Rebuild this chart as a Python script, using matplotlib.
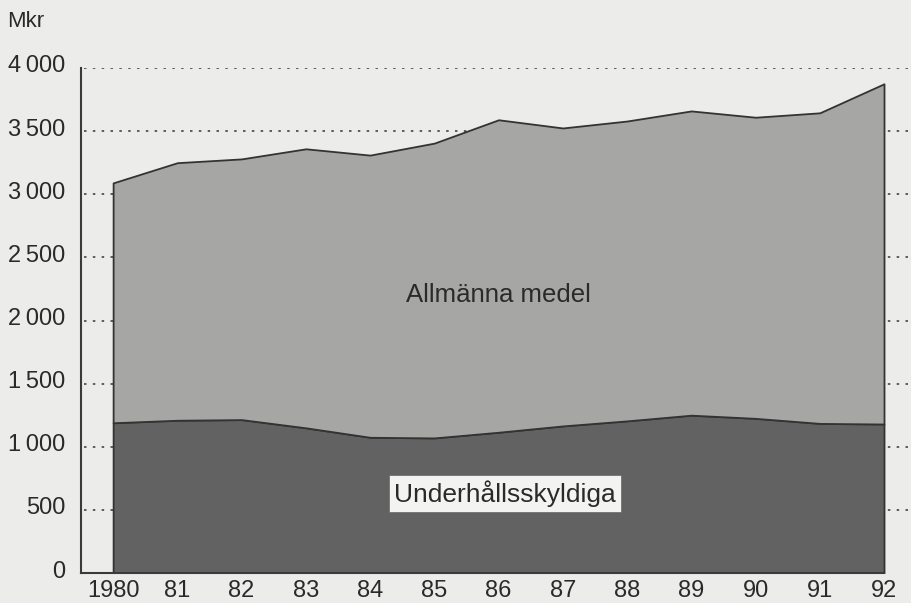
import matplotlib.pyplot as plt
import matplotlib.transforms as mtransforms

# data (Mkr)
years = [1980, 1981, 1982, 1983, 1984, 1985, 1986, 1987, 1988, 1989, 1990, 1991, 1992]
year_labels = ["1980", "81", "82", "83", "84", "85", "86", "87", "88", "89", "90", "91", "92"]
underhallsskyldiga = [1190, 1210, 1215, 1150, 1075, 1070, 1115, 1165, 1205, 1250, 1225, 1185, 1180]
allmanna_medel = [1900, 2040, 2065, 2210, 2235, 2335, 2475, 2360, 2375, 2410, 2385, 2460, 2695]
y_ticks = [0, 500, 1000, 1500, 2000, 2500, 3000, 3500, 4000]
y_labels = ["0", "500", "1\u2009000", "1\u2009500", "2\u2009000", "2\u2009500",
            "3\u2009000", "3\u2009500", "4\u2009000"]

bg = "#ececea"
col_top = "#a6a7a4"
col_bottom = "#626263"
edge = "#333333"

plt.rcParams["font.family"] = ["Liberation Sans", "DejaVu Sans"]
fontsize = 17

fig = plt.figure(figsize=(9.12, 6.03), dpi=100, facecolor=bg)
W, H = 912, 603
ax = fig.add_axes([81 / W, (H - 573) / H, (W - 81) / W, (573 - 68) / H])
ax.set_facecolor(bg)

ax.stackplot(
    years,
    underhallsskyldiga,
    allmanna_medel,
    colors=[col_bottom, col_top],
    edgecolor=edge,
    linewidth=1.3,
    zorder=3,
)

ax.set_xlim(years[0] - 0.5, years[-1] + 28 / 64.25)
ax.set_ylim(0, 4000)

# dotted grid lines
for y in y_ticks[1:]:
    ax.axhline(y, xmin=3 / 831, color="#444444", lw=1.2,
               linestyle=(0, (1.5, 3.8)), zorder=1)

for spine in ["top", "right"]:
    ax.spines[spine].set_visible(False)
for spine in ["left", "bottom"]:
    ax.spines[spine].set_color("#3a3a3a")
    ax.spines[spine].set_linewidth(1.5)
    ax.spines[spine].set_zorder(5)
ax.spines["bottom"].set_bounds(years[0] - 0.5, years[-1])

ax.set_yticks(y_ticks)
ax.set_yticklabels(y_labels)
ax.set_xticks(years)
ax.set_xticklabels(year_labels)
ax.set_xticks([y + 0.5 for y in years[:-1]], minor=True)
ax.tick_params(axis="y", length=0, pad=11, labelsize=fontsize, labelcolor="#2a2a2a")
ax.tick_params(axis="x", which="major", length=0, pad=5, labelsize=fontsize,
               labelcolor="#2a2a2a")
ax.tick_params(axis="x", which="minor", direction="in", length=11, width=1.1,
               color="#3a3a3a")

offset = mtransforms.ScaledTranslation(0, 4 / 100, fig.dpi_scale_trans)
for label in ax.get_yticklabels():
    label.set_transform(label.get_transform() + offset)

fig.text(7 / W, 1 - 27 / H, "Mkr", fontsize=16, color="#2a2a2a", ha="left", va="baseline")

ax.text(1986.0, 2200, "Allmänna medel", fontsize=18.5, color="#2a2a2a",
        ha="center", va="center", zorder=6)
ax.text(1986.1, 630, "Underhållsskyldiga", fontsize=19, color="#2a2a2a",
        ha="center", va="center", zorder=6,
        bbox=dict(boxstyle="square,pad=0.2", facecolor="#f3f3f1",
                  edgecolor="#666666", linewidth=0.5))

fig.savefig("out.png", dpi=100, facecolor=bg)
